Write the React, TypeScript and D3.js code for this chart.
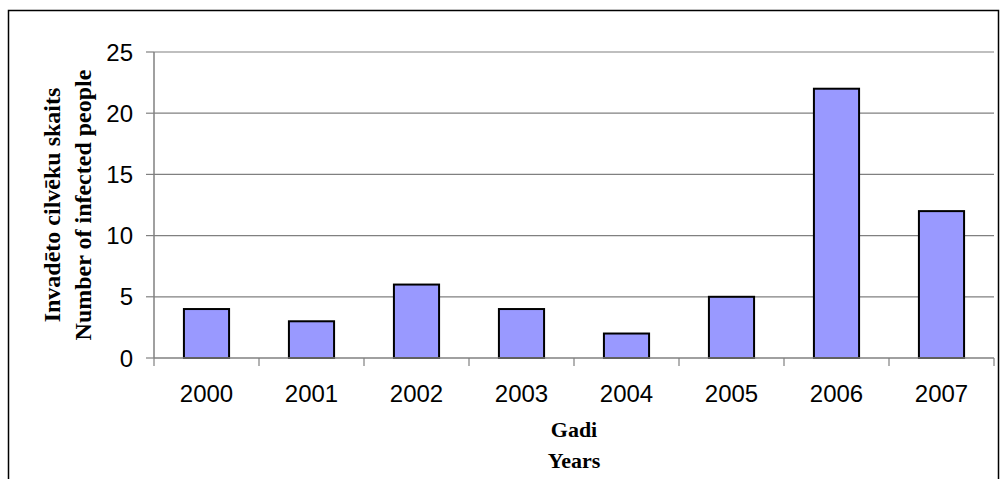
import React from 'react';
import * as d3 from 'd3';

const years = ['2000', '2001', '2002', '2003', '2004', '2005', '2006', '2007'];
const infected = [4, 3, 6, 4, 2, 5, 22, 12];
const yTicks = [0, 5, 10, 15, 20, 25];

const W = 1000;
const H = 479;
const left = 154, right = 994, top = 52, bottom = 358;

const App: React.FC = () => {
    const x = d3.scaleBand<string>().domain(years).range([left, right]).paddingInner(0.57).paddingOuter(0.285);
    const xb = d3.scaleBand<string>().domain(years).range([left, right]);
    const y = d3.scaleLinear().domain([0, 25]).range([bottom, top]);
    const cy = (top + bottom) / 2;
    const cx = (left + right) / 2;

    return (
        <svg width={W} height={H} style={{ position: 'absolute', left: 0, top: 0, background: '#fff' }}>
            <rect x={8.5} y={10.5} width={990} height={480} fill="#fff" stroke="#000" strokeWidth={1.5} />
            {/* gridlines */}
            {yTicks.filter(t => t > 0).map(t => (
                <line key={'g' + t} x1={left} x2={right} y1={y(t)} y2={y(t)} stroke="#808080" strokeWidth={1.2} />
            ))}
            {/* bars */}
            {years.map((yr, i) => (
                <rect key={yr} x={x(yr)} y={y(infected[i])} width={x.bandwidth()} height={bottom - y(infected[i])}
                    fill="#9999ff" stroke="#000" strokeWidth={2} />
            ))}
            {/* axes */}
            <line x1={left} x2={left} y1={top} y2={bottom} stroke="#808080" strokeWidth={1.5} />
            <line x1={left} x2={right} y1={bottom} y2={bottom} stroke="#808080" strokeWidth={1.5} />
            {yTicks.map(t => (
                <g key={'y' + t}>
                    <line x1={left - 8} x2={left} y1={y(t)} y2={y(t)} stroke="#808080" strokeWidth={1.2} />
                    <text x={left - 21} y={y(t)} dy="0.36em" textAnchor="end" fontFamily="Liberation Sans, Arial" fontSize={24}>{t}</text>
                </g>
            ))}
            {years.map(yr => (
                <line key={'xt' + yr} x1={xb(yr)!} x2={xb(yr)!} y1={bottom} y2={bottom + 8} stroke="#808080" strokeWidth={1.2} />
            ))}
            <line x1={right} x2={right} y1={bottom} y2={bottom + 8} stroke="#808080" strokeWidth={1.2} />
            {years.map(yr => (
                <text key={'xl' + yr} x={xb(yr)! + xb.bandwidth() / 2} y={402} textAnchor="middle"
                    fontFamily="Liberation Sans, Arial" fontSize={24}>{yr}</text>
            ))}
            {/* axis titles */}
            <text x={cx} y={437} textAnchor="middle" fontFamily="Liberation Serif, Times New Roman" fontWeight="bold" fontSize={22}>Gadi</text>
            <text x={cx} y={468} textAnchor="middle" fontFamily="Liberation Serif, Times New Roman" fontWeight="bold" fontSize={22}>Years</text>
            <text transform={`translate(60,${cy}) rotate(-90)`} textAnchor="middle" fontFamily="Liberation Serif, Times New Roman" fontWeight="bold" fontSize={24}>Invadēto cilvēku skaits</text>
            <text transform={`translate(91,${cy}) rotate(-90)`} textAnchor="middle" fontFamily="Liberation Serif, Times New Roman" fontWeight="bold" fontSize={24}>Number of infected people</text>
        </svg>
    );
};

export default App;
